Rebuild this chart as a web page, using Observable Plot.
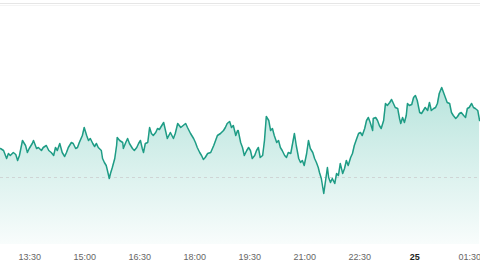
<!DOCTYPE html>
<html>
<head>
<meta charset="utf-8">
<script src="https://cdn.jsdelivr.net/npm/d3@7"></script>
<script src="https://cdn.jsdelivr.net/npm/@observablehq/plot@0.6"></script>
<style>
  html, body { margin: 0; padding: 0; background: #ffffff; }
  #wrap { position: relative; width: 480px; height: 270px; overflow: hidden; }
  #topline { position: absolute; left: 0; top: 3px; width: 480px; height: 1px; background: #e6e6e6; }
  #topline2 { position: absolute; left: 0; top: 5px; width: 480px; height: 1px; background: #f4f4f4; }
  #chart { position: absolute; left: 0; top: 0; }
</style>
</head>
<body>
<div id="wrap"><div id="chart"></div><div id="topline"></div><div id="topline2"></div></div>
<script>
const times = [
  "12:42","12:47","12:52","12:55","12:58","13:03","13:07","13:10","13:13","13:18","13:23","13:26","13:29","13:34","13:36","13:41","13:44","13:49","13:52","13:57",
  "14:01","14:05","14:09","14:12","14:15","14:19","14:23","14:27","14:30","14:33","14:38","14:41","14:45","14:48","14:51","14:56","14:59","15:03","15:06","15:09",
  "15:13","15:16","15:19","15:22","15:27","15:29","15:32","15:35","15:37","15:40","15:42","15:45","15:49","15:52","15:53","15:57","16:02","16:03","16:07","16:10",
  "16:13","16:18","16:21","16:25","16:28","16:31","16:34","16:36","16:39","16:43","16:46","16:49","16:52","16:56","16:59","17:02","17:04","17:09","17:12","17:15",
  "17:20","17:25","17:28","17:32","17:37","17:41","17:45","17:48","17:53","17:58","18:01","18:04","18:08","18:11","18:14","18:17","18:21","18:26","18:31","18:34",
  "18:37","18:42","18:47","18:50","18:53","18:57","19:00","19:03","19:07","19:10","19:11","19:15","19:18","19:21","19:25","19:28","19:31","19:34","19:38","19:41",
  "19:44","19:47","19:51","19:54","19:57","20:01","20:04","20:07","20:10","20:14","20:17","20:20","20:23","20:27","20:30","20:33","20:37","20:40","20:43","20:46",
  "20:50","20:53","20:56","20:59","21:03","21:06","21:09","21:13","21:16","21:19","21:22","21:24","21:27","21:31","21:34","21:37","21:39","21:42","21:45","21:49",
  "21:52","21:55","21:58","22:02","22:05","22:08","22:11","22:15","22:18","22:21","22:25","22:28","22:31","22:34","22:38","22:41","22:44","22:47","22:51","22:52",
  "22:56","22:59","23:02","23:05","23:09","23:12","23:15","23:19","23:22","23:25","23:28","23:32","23:35","23:37","23:40","23:43","23:46","23:48","23:51","23:55",
  "23:58","00:01","00:04","00:08","00:11","00:14","00:17","00:21","00:24","00:27","00:31","00:34","00:37","00:40","00:44","00:47","00:50","00:53","00:57","01:00",
  "01:03","01:07","01:10","01:13","01:16","01:20","01:23","01:26","01:29","01:33","01:36","01:39","01:43","01:46"
];
const prices = [
  101.45,101.35,100.95,101.20,101.10,101.25,101.15,100.85,101.10,101.85,101.60,101.25,101.45,101.70,101.85,101.45,101.50,101.35,101.50,101.60,
  101.35,101.25,101.10,101.50,101.35,101.70,101.25,101.05,101.25,101.50,101.75,101.70,101.45,101.50,101.75,102.10,102.50,102.10,101.85,101.95,
  101.70,101.55,101.70,101.50,101.35,100.95,100.75,100.60,100.35,99.95,100.20,100.50,100.95,101.60,102.00,101.85,101.75,101.45,101.75,101.95,
  101.70,101.45,101.35,101.50,101.70,101.85,101.45,101.25,101.70,101.75,102.50,102.20,102.10,102.25,102.45,102.40,102.50,102.75,102.35,101.95,
  102.25,101.95,102.20,102.70,102.50,102.60,102.70,102.50,102.20,101.95,101.75,101.50,101.25,101.10,100.90,101.00,101.20,101.25,101.60,101.85,
  102.10,102.20,102.35,102.50,102.70,102.80,102.50,102.60,102.10,102.35,102.35,101.75,101.50,101.10,101.35,101.50,101.35,100.95,101.10,101.35,
  101.50,101.00,101.10,101.85,103.05,102.85,102.35,102.45,102.10,101.75,101.85,101.50,101.35,101.10,101.00,101.25,101.20,101.70,102.20,101.60,
  100.95,100.75,100.85,100.60,101.20,101.85,101.45,101.25,100.95,100.75,100.50,100.25,99.95,99.20,99.85,100.50,100.00,99.75,99.95,99.70,
  100.20,100.10,100.70,100.20,100.45,100.85,100.60,101.00,101.20,101.60,101.95,102.20,102.25,102.10,102.45,102.85,103.00,102.75,102.35,102.95,
  103.00,102.85,102.60,102.45,102.85,103.70,103.60,103.75,103.90,103.70,103.50,103.45,102.95,102.70,103.00,102.75,103.10,103.70,103.60,103.65,
  104.00,104.10,103.85,103.25,103.20,103.35,103.50,103.35,103.75,103.35,103.45,103.50,103.70,104.20,104.50,104.25,104.00,103.75,103.70,103.25,
  103.10,102.95,103.05,103.20,103.25,103.10,103.00,103.45,103.50,103.70,103.50,103.45,103.35,102.85
];
const tickTimes = ["13:30","15:00","16:30","18:00","19:30","21:00","22:30","00:00","01:30"];
const previousClose = 100;
const xStart = "12:42";
const xEnd = "01:47:30";
const yRange = [96.65, 108.85];

function toDate(s) {
  const [h, m, sec] = s.split(":").map(Number);
  return new Date(2024, 4, h < 12 ? 25 : 24, h, m, sec || 0);
}

const data = times.map((t, i) => ({time: toDate(t), price: prices[i]}));
const fmt = d3.timeFormat("%H:%M");

const chart = Plot.plot({
  width: 480,
  height: 270,
  marginTop: 0,
  marginBottom: 26,
  marginLeft: 0,
  marginRight: 0,
  style: {background: "transparent", fontFamily: "'Liberation Sans Narrow', 'Liberation Sans', Arial, sans-serif", fontSize: "9px", color: "#666"},
  x: {type: "time", domain: [toDate(xStart), toDate(xEnd)]},
  y: {domain: yRange, axis: null},
  marks: [
    Plot.areaY(data, {x: "time", y1: yRange[0], y2: "price", fill: "url(#areaGrad)", curve: "linear"}),
    Plot.ruleY([previousClose], {stroke: "#cfd5d5", strokeWidth: 1, strokeDasharray: "3,3"}),
    Plot.lineY(data, {x: "time", y: "price", stroke: "#1e9c85", strokeWidth: 1.5, curve: "linear"}),
    Plot.axisX({
      ticks: tickTimes.map(toDate),
      tickSize: 0,
      tickPadding: 9,
      label: null,
      fill: "#666",
      tickFormat: d => (d.getHours() === 0 && d.getMinutes() === 0) ? String(d.getDate()) : fmt(d)
    })
  ]
});

const svg = d3.select(chart);
const grad = svg.insert("defs", ":first-child")
  .append("linearGradient")
  .attr("id", "areaGrad")
  .attr("x1", 0).attr("y1", 0).attr("x2", 0).attr("y2", 1);
grad.append("stop").attr("offset", "0%").attr("stop-color", "#22ab94").attr("stop-opacity", 0.32);
grad.append("stop").attr("offset", "100%").attr("stop-color", "#22ab94").attr("stop-opacity", 0.03);

svg.selectAll("text").each(function() {
  const t = d3.select(this);
  if (t.text() === "25") t.attr("font-weight", "bold").attr("fill", "#222");
});

document.getElementById("chart").appendChild(chart);
</script>
</body>
</html>
